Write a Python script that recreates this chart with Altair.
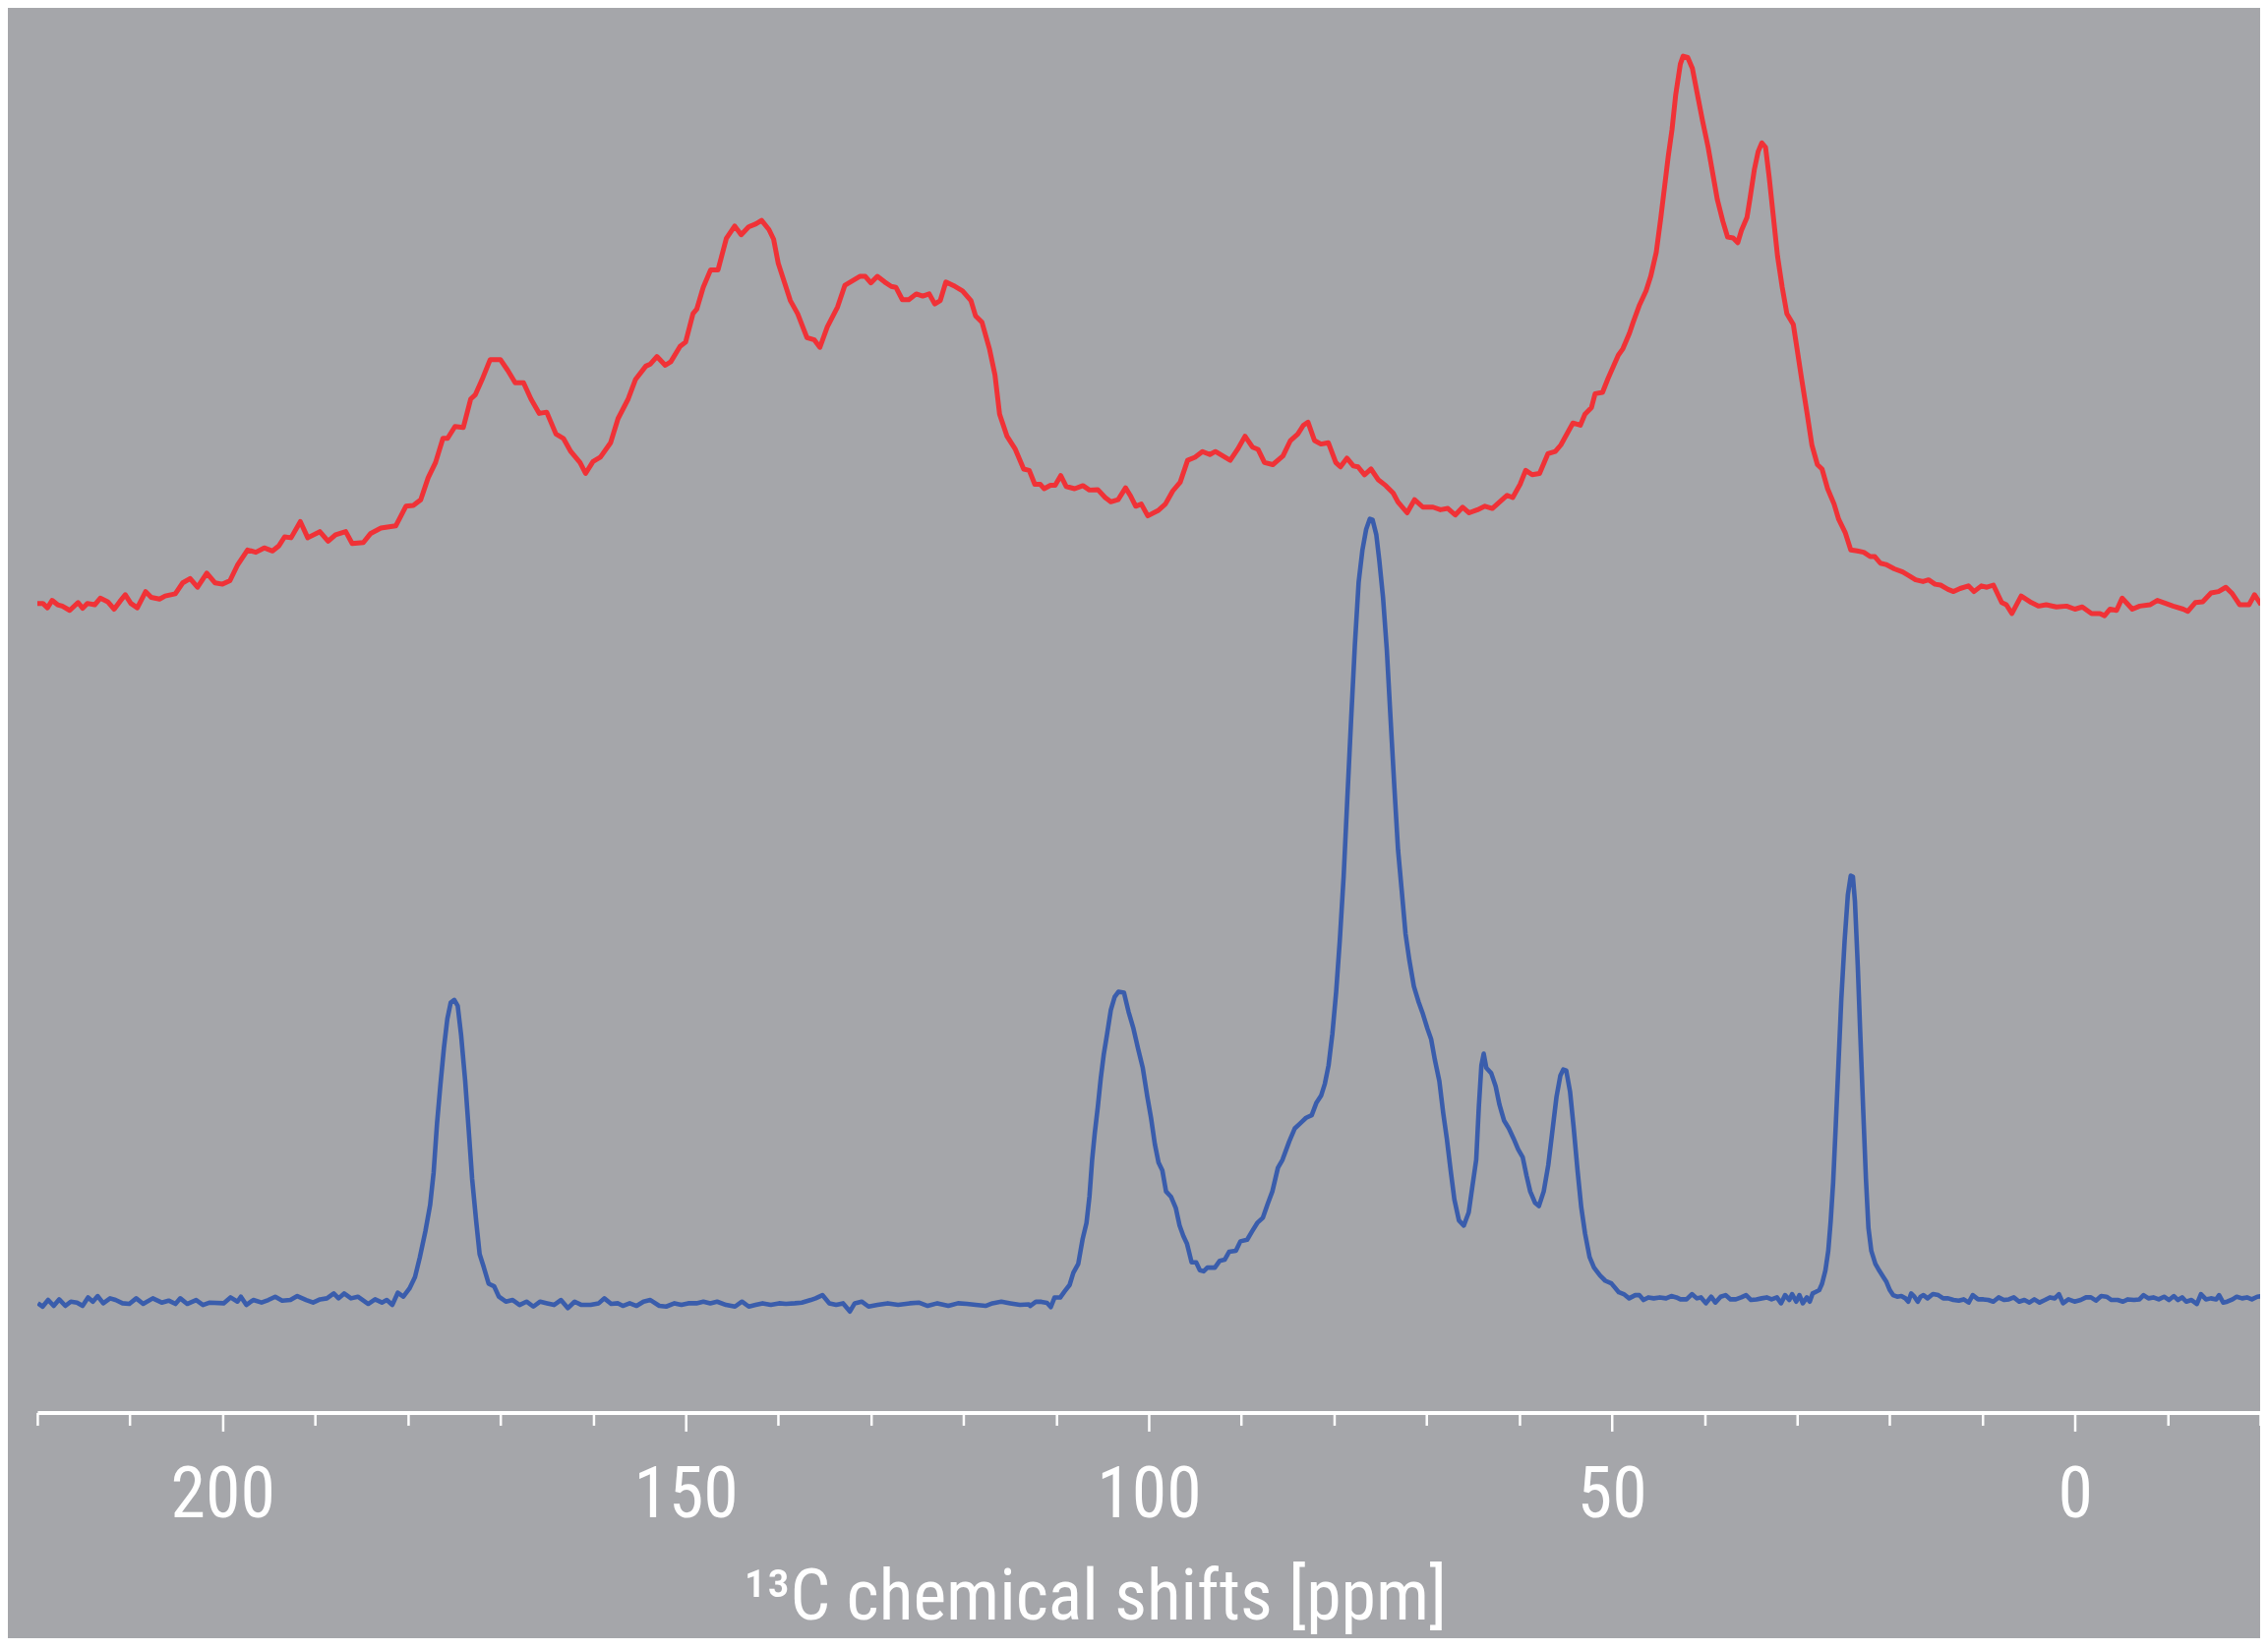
import altair as alt
import pandas as pd

# ---- red spectrum (upper trace), intensity relative to its own baseline ----
red_ppm = [220.0, 219.4, 218.9, 218.4, 217.8, 217.3, 216.5, 215.6, 215.1, 214.6, 213.8, 213.2, 212.4, 211.7, 211.1,
           210.5, 209.9, 209.2, 208.3, 207.7, 206.8, 206.2, 205.1, 204.3, 203.5, 202.7, 201.7, 200.8, 200.0, 199.2,
           198.4, 197.3, 196.4, 195.5, 194.6, 193.9, 193.3, 192.6, 191.6, 190.8, 189.5, 188.6, 187.8, 186.7, 186.0,
           184.8, 184.0, 182.9, 181.3, 180.2, 179.4, 178.6, 177.8, 177.0, 176.2, 175.7, 174.9, 174.0, 173.2, 172.7,
           172.0, 171.1, 170.0, 169.2, 168.4, 167.5, 166.7, 165.8, 165.0, 164.0, 163.2, 162.4, 161.4, 160.8, 160.0,
           159.2, 158.1, 157.3, 156.2, 155.4, 154.3, 153.8, 153.1, 152.2, 151.6, 150.6, 150.0, 149.2, 148.8, 148.1,
           147.3, 146.5, 145.6, 144.7, 144.0, 143.2, 142.4, 141.8, 141.0, 140.5, 140.0, 139.3, 138.7, 137.9, 136.9,
           136.1, 135.5, 134.7, 133.6, 132.8, 132.0, 131.2, 130.6, 130.0, 129.3, 128.5, 127.8, 127.3, 126.6, 125.9,
           125.1, 124.4, 123.7, 123.1, 122.5, 121.9, 120.9, 120.1, 119.2, 118.7, 118.0, 117.2, 116.6, 116.1, 115.3,
           114.4, 113.5, 112.9, 112.3, 111.7, 111.3, 110.6, 110.1, 109.5, 108.9, 108.0, 107.1, 106.4, 105.5, 104.7,
           104.1, 103.3, 102.5, 102.0, 101.4, 100.8, 100.1, 99.0, 98.2, 97.4, 96.6, 95.8, 95.0, 94.2, 93.4,
           92.8, 92.0, 91.2, 90.4, 89.6, 88.8, 88.2, 87.5, 86.6, 85.5, 84.7, 83.9, 83.3, 82.8, 82.1,
           81.4, 80.6, 79.8, 79.3, 78.6, 77.9, 77.4, 76.7, 76.0, 75.2, 74.4, 73.6, 73.1, 72.1, 71.3,
           70.4, 69.3, 68.5, 67.7, 66.9, 66.1, 65.4, 64.5, 63.7, 62.9, 62.1, 61.3, 60.7, 59.9, 59.3,
           58.6, 57.8, 56.9, 56.1, 55.5, 54.2, 53.4, 52.9, 52.2, 51.8, 51.0, 50.4, 49.3, 48.8, 48.1,
           47.7, 47.0, 46.3, 45.8, 45.2, 44.7, 44.3, 43.9, 43.5, 43.1, 42.6, 42.3, 41.8, 41.3, 40.8,
           40.2, 39.6, 39.1, 38.6, 38.0, 37.5, 36.9, 36.4, 36.0, 35.4, 35.1, 34.6, 34.2, 33.8, 33.4,
           33.0, 32.6, 32.1, 31.6, 31.1, 30.4, 30.0, 29.5, 28.9, 28.4, 27.8, 27.3, 26.7, 26.0, 25.5,
           24.8, 24.2, 23.5, 22.8, 22.1, 21.6, 21.0, 20.4, 19.5, 18.6, 17.8, 17.2, 16.4, 15.8, 15.1,
           14.5, 13.7, 13.1, 12.4, 11.5, 10.9, 10.1, 9.5, 8.8, 7.9, 7.4, 6.8, 5.8, 4.7, 3.9,
           3.1, 2.0, 0.9, 0.0, -0.8, -1.8, -2.7, -3.2, -3.8, -4.5, -5.1, -6.2, -7.0, -8.1, -8.9,
           -9.8, -10.6, -11.7, -12.2, -13.0, -13.8, -14.7, -15.5, -16.3, -17.0, -17.8, -18.8, -19.4, -20.1]
red_int = [0.19, 0.19, -0.37, 0.58, 0.02, -0.15, -0.70, 0.30, -0.43, 0.19, 0.02, 0.86, 0.41, -0.54, 0.41,
           1.30, 0.19, -0.37, 1.70, 0.97, 0.75, 1.14, 1.42, 2.81, 3.37, 2.25, 4.04, 2.81, 2.64, 3.09,
           5.04, 7.00, 6.71, 7.27, 6.88, 7.55, 8.67, 8.56, 10.62, 8.56, 9.34, 8.11, 8.95, 9.34, 7.83,
           7.95, 9.12, 9.79, 10.07, 12.58, 12.69, 13.41, 16.20, 18.15, 21.23, 21.23, 22.74, 22.62, 26.25, 26.80,
           28.65, 31.27, 31.27, 29.88, 28.31, 28.31, 26.25, 24.41, 24.57, 21.78, 21.23, 19.55, 18.15, 16.76, 18.27,
           18.83, 20.67, 23.74, 26.25, 28.76, 30.43, 30.71, 31.66, 30.54, 30.99, 32.95, 33.50, 37.13, 37.69, 40.48,
           42.71, 42.71, 46.73, 48.29, 47.18, 48.18, 48.57, 49.01, 47.84, 46.61, 43.55, 41.0, 38.8, 37.1, 34.06,
           33.78, 32.83, 35.45, 37.96, 40.75, 41.31, 41.87, 41.87, 41.04, 41.87, 41.15, 40.59, 40.48, 38.91, 38.91,
           39.64, 39.36, 39.64, 38.36, 38.80, 41.15, 40.59, 40.03, 38.80, 36.85, 36.01, 32.66, 29.31, 24.3, 21.5,
           19.83, 17.32, 17.15, 15.37, 15.37, 14.81, 15.25, 15.25, 16.48, 15.09, 14.81, 15.2, 14.64, 14.70, 13.69,
           13.14, 13.41, 14.92, 13.97, 12.58, 12.85, 11.35, 12.02, 12.85, 14.53, 15.64, 18.43, 18.83, 19.55, 19.16,
           19.55, 18.99, 18.43, 19.83, 21.5, 20.11, 19.83, 18.15, 17.88, 18.99, 20.95, 21.78, 22.9, 23.29, 20.95,
           20.5, 20.67, 18.15, 17.6, 18.71, 17.71, 17.6, 16.59, 17.32, 15.93, 15.2, 14.25, 13.14, 11.74, 13.41,
           12.46, 12.46, 12.13, 12.3, 11.46, 12.46, 11.74, 12.13, 12.58, 12.3, 13.14, 13.97, 13.69, 15.37, 17.15,
           16.59, 16.76, 19.27, 19.55, 20.39, 23.18, 22.9, 24.3, 25.14, 26.92, 27.09, 28.88, 31.83, 32.66, 34.62,
           36.01, 38.25, 40.03, 41.87, 44.94, 49.41, 53.31, 57.22, 60.57, 65.03, 68.94, 69.94, 69.77, 68.38, 65.31,
           61.68, 58.33, 54.98, 51.63, 48.85, 46.9, 46.78, 46.17, 47.73, 49.41, 51.63, 55.55, 57.78, 58.89, 58.33,
           54.43, 49.97, 44.39, 40.48, 37.13, 35.74, 32.66, 28.76, 24.3, 20.39, 17.88, 17.32, 14.81, 12.85, 10.9,
           9.23, 7.0, 6.88, 6.71, 6.16, 6.16, 5.32, 5.15, 4.6, 4.2, 3.65, 3.2, 2.98, 3.2, 2.64,
           2.53, 1.98, 1.7, 2.09, 2.42, 1.7, 2.42, 2.25, 2.53, 0.3, 0.02, -1.1, 1.14, 0.3, -0.15,
           0.02, -0.26, -0.15, -0.54, -0.26, -1.1, -1.1, -1.37, -0.54, -0.7, 0.86, -0.54, -0.15, 0.02, 0.58,
           0.19, -0.15, -0.54, -0.82, 0.3, 0.41, 1.53, 1.7, 2.25, 1.42, 0.02, 0.02, 1.3, 0.02]

# ---- blue spectrum (lower trace) ----
blue_ppm = [219.94, 219.42, 218.83, 218.23, 217.64, 216.97, 216.38, 215.71, 215.11, 214.52, 214.0, 213.48, 212.88,
            212.14, 211.55, 210.8, 210.06, 209.32, 208.57, 207.53, 206.57, 205.82, 205.08, 204.56, 203.82, 202.85,
            202.11, 201.37, 199.88, 199.14, 198.39, 198.02, 197.43, 196.68, 195.79, 195.05, 194.31, 193.56, 192.67,
            191.93, 190.96, 190.22, 189.47, 188.73, 187.99, 187.47, 186.87, 186.13, 185.39, 184.79, 184.27, 183.53,
            182.79, 182.27, 181.67, 181.08, 180.48, 179.82, 179.22, 178.7, 178.1, 177.59, 177.21, 176.84, 176.47,
            176.1, 175.73, 175.36, 174.98, 174.61, 174.24, 173.8, 173.42, 173.05, 172.61, 172.24, 171.79, 171.27,
            170.68, 170.16, 169.41, 168.67, 167.93, 167.18, 166.44, 165.7, 164.95, 164.21, 163.47, 162.72, 161.98,
            161.24, 160.27, 159.38, 158.78, 158.04, 157.3, 156.78, 156.04, 155.29, 154.55, 153.81, 152.84, 152.1,
            151.2, 150.46, 149.72, 148.83, 148.08, 147.34, 146.6, 145.63, 144.67, 143.92, 143.18, 142.44, 141.69,
            140.8, 139.91, 139.17, 138.2, 137.46, 136.49, 135.97, 135.23, 134.48, 133.74, 133.0, 132.26, 131.74,
            130.99, 130.25, 129.28, 128.17, 127.06, 125.79, 124.83, 123.86, 122.82, 121.63, 120.59, 119.63, 118.66,
            117.62, 116.87, 115.91, 114.94, 113.9, 112.94,
            112.8, 112.19, 111.58, 110.98, 110.57, 110.17, 109.56, 109.07, 108.54, 108.14, 107.61, 107.13, 106.72,
            106.4, 106.11, 105.83, 105.5, 105.18, 104.86, 104.49, 104.09, 103.68, 103.27, 102.67, 102.18, 101.65,
            101.13, 100.64, 100.15, 99.75, 99.34, 98.94, 98.53, 98.13, 97.6, 97.07, 96.67, 96.26, 95.86, 95.37,
            94.88, 94.48, 94.07, 93.67, 92.86, 92.33, 91.8, 91.32, 90.59, 90.1, 89.37, 88.8, 88.28, 87.67, 87.18,
            86.65, 86.05, 85.56, 84.83, 84.22, 83.61, 83.01, 82.4, 81.91, 81.39, 80.98, 80.58, 80.17, 79.76, 79.36,
            78.95, 78.55, 78.14, 77.74, 77.33, 76.93, 76.52, 76.12, 75.83, 75.43, 75.1, 74.7, 74.29, 73.89, 73.48,
            73.08, 72.67, 72.27, 71.86, 71.37, 70.85, 70.44, 69.91, 69.51, 69.1, 68.62, 68.21, 67.81, 67.4, 67.0,
            66.51, 65.98, 65.45, 65.05, 64.64, 64.36, 64.08, 63.83, 63.55, 63.02, 62.54, 62.13, 61.64, 61.12, 60.59,
            60.11, 59.62, 59.21, 58.81, 58.28, 57.87, 57.35, 56.86, 56.38, 55.97, 55.56, 55.24, 54.92, 54.51, 54.11,
            53.7, 53.3, 52.89, 52.4, 51.92, 51.27, 50.7, 50.05, 49.24,
            48.71, 48.13, 47.47, 47.02, 46.58, 46.05, 45.47, 44.81, 44.14, 43.57, 43.03, 42.59, 41.93, 41.35, 40.82,
            40.37, 39.84, 39.27, 38.82, 38.25, 37.72, 37.18, 36.61, 36.03, 35.5, 34.97, 34.39, 33.81, 33.28, 32.75,
            32.17, 31.73, 31.29, 30.84, 30.53, 30.09, 29.74, 29.38, 28.94, 28.63, 28.32, 27.96, 27.61, 27.3, 26.94,
            26.63, 26.37, 26.1, 25.84, 25.53, 25.22, 24.86, 24.51, 24.2, 23.97, 23.75, 23.44, 23.18, 22.87, 22.56,
            22.29, 21.98, 21.54, 21.23, 20.78, 20.34, 19.98, 19.63, 19.19, 18.74, 18.3, 17.99, 17.68, 17.33, 16.97,
            16.66, 16.35, 15.91, 15.33, 14.75, 14.22, 13.69, 13.11, 12.54, 12.01, 11.47, 11.03, 10.45, 9.88, 9.35,
            8.81, 8.24, 7.66, 7.13, 6.6, 6.02, 5.45, 4.91, 4.38, 3.81, 3.23, 2.7, 2.17, 1.72, 1.28,
            0.7, 0.04, -0.63, -1.2, -1.73, -2.27, -2.84, -3.42, -3.95, -4.62, -5.19, -5.72, -6.39, -6.97, -7.41,
            -7.94, -8.47, -9.05, -9.63, -10.16, -10.69, -11.13, -11.58, -12.02, -12.59, -13.17, -13.61, -14.15, -14.68, -15.26,
            -15.57, -16.01, -16.45, -17.03, -17.47, -18.05, -18.58, -19.11, -19.69, -20.26]
blue_int = [-0.01, -0.43, 0.41, -0.34, 0.49, -0.34, 0.2, 0.08, -0.34, 0.74, 0.2, 0.91, -0.01,
            0.62, 0.41, -0.01, -0.09, 0.62, -0.09, 0.62, 0.08, 0.33, -0.09, 0.62, -0.09, 0.41,
            -0.22, 0.08, -0.01, 0.74, 0.2, 0.83, -0.22, 0.41, 0.08, 0.41, 0.83, 0.33, 0.41,
            0.91, 0.41, 0.08, 0.49, 0.62, 1.24, 0.62, 1.24, 0.62, 0.83, 0.33, -0.09, 0.49,
            0.08, 0.41, -0.22, 1.33, 0.83, 1.87, 3.33, 5.83, 9.16, 12.49, 16.66, 22.92, 27.91,
            32.49, 36.24, 38.33, 38.66, 37.91, 34.16, 28.33, 22.08, 15.83, 10.41, 6.24, 4.58, 2.49,
            2.16, 0.83, 0.2, 0.41, -0.22, 0.2, -0.43, 0.2, -0.01, -0.22, 0.41, -0.63, 0.2,
            -0.22, -0.22, -0.01, 0.62, -0.09, -0.01, -0.34, -0.01, -0.34, 0.2, 0.41, -0.34, -0.43,
            -0.01, -0.22, -0.01, -0.01, 0.2, -0.01, 0.2, -0.22, -0.43, 0.2, -0.43, -0.22, -0.01,
            -0.22, -0.01, -0.09, -0.01, 0.08, 0.41, 0.62, 1.03, -0.01, -0.22, -0.01, -1.05, -0.01,
            0.2, -0.43, -0.22, -0.01, -0.22, -0.01, 0.08, -0.34, -0.01, -0.34, -0.01, -0.09, -0.22,
            -0.34, -0.01, 0.2, -0.01, -0.22, -0.14,
            -0.35, 0.18, 0.18, 0.05, -0.49, 0.72, 0.72, 1.52, 2.33, 3.87, 5.01, 8.22, 10.23,
            13.58, 18.27, 21.62, 24.97, 28.65, 31.66, 34.34, 37.36, 39.03, 39.7, 39.57, 37.16, 35.01,
            32.33, 29.99, 26.31, 23.62, 20.28, 17.93, 16.93, 14.25, 13.58, 12.11, 9.9, 8.55, 7.55, 5.21,
            5.21, 4.2, 4.07, 4.54, 4.54, 5.41, 5.54, 6.55, 6.68, 7.89, 8.09, 9.23, 10.23, 10.9, 12.58,
            14.25, 17.26, 18.27, 20.61, 22.29, 22.96, 23.63, 23.96, 25.5, 26.44, 27.98, 30.32, 34.34, 39.7, 46.4,
            54.44, 64.48, 74.53, 83.91, 91.94, 95.96, 98.64, 99.98, 99.85, 97.97, 94.62, 89.93, 83.24, 74.53, 65.82,
            57.78, 52.43, 47.07, 43.72, 40.37, 38.36, 37.02, 35.01, 33.67, 30.99, 28.31, 24.3, 20.95, 16.93, 13.24,
            10.56, 9.9, 11.57, 14.92, 18.27, 24.97, 30.32, 31.8, 29.99, 29.32, 27.64, 25.3, 23.29, 22.29, 20.95,
            19.61, 18.6, 16.26, 14.25, 12.78, 12.38, 14.25, 17.6, 22.29, 26.31, 28.98, 29.79, 29.66, 26.98, 22.29,
            16.93, 12.24, 8.89, 5.88, 4.54, 3.53, 2.86, 2.53, 1.4,
            1.16, 0.62, 1.03, 1.03, 0.41, 0.74, 0.62, 0.74, 0.62, 0.91, 0.74, 0.49, 0.49, 1.16, 0.62,
            0.74, -0.01, 0.83, 0.08, 0.83, 1.03, 0.49, 0.49, 0.74, 1.03, 0.41, 0.49, 0.62, 0.74, 0.49,
            0.74, -0.01, 1.03, 0.41, 1.16, 0.2, 1.03, -0.01, 0.74, 0.2, 1.24, 1.45, 1.66, 2.49, 4.16,
            6.66, 10.41, 15.41, 22.08, 30.41, 38.74, 46.24, 52.08, 54.49, 54.37, 51.24, 42.91, 34.58, 24.99, 15.83,
            9.58, 6.66, 5.0, 4.37, 3.53, 2.7, 1.66, 1.03, 0.83, 0.91, 0.62, 0.2, 1.24, 0.83, 0.2,
            0.83, 1.03, 0.62, 1.16, 1.03, 0.62, 0.62, 0.41, 0.33, 0.49, 0.08, 1.03, 0.49, 0.49, 0.41,
            0.2, 0.74, 0.41, 0.49, 0.74, 0.2, 0.41, 0.08, 0.49, 0.08, 0.41, 0.74, 0.62, 1.16, -0.01,
            0.49, 0.2, 0.41, 0.74, 0.74, 0.33, 0.91, 0.83, 0.41, 0.41, 0.2, 0.49, 0.41, 0.49, 1.03,
            0.62, 0.74, 0.49, 0.83, 0.41, 0.91, 0.41, 0.74, 0.2, 0.41, -0.09, 1.16, 0.49, 0.62, 0.49,
            1.03, 0.08, 0.2, 0.49, 0.83, 0.62, 0.74, 0.49, 0.83, 0.91]

x_ticks = list(range(220, -30, -10))
x_title = "\u00b9\u00b3C chemical shifts [ppm]"

RED_OFFSET = 89
BG = "#a5a6aa"
RED = "#f03237"
BLUE = "#3a5dac"
FONT = "Liberation Sans Narrow, Roboto Condensed, DejaVu Sans Condensed, sans-serif"

red_df = pd.DataFrame({"ppm": red_ppm, "intensity": red_int})
blue_df = pd.DataFrame({"ppm": blue_ppm, "intensity": blue_int})

x_scale = alt.Scale(domain=[-20, 220], reverse=True, nice=False, zero=False)
y_scale = alt.Scale(domain=[-13.925, 164.825], nice=False, zero=False)

x_axis = alt.Axis(
    values=x_ticks,
    format="d",
    labelExpr="datum.value % 50 === 0 ? datum.label : ''",
    tickSize={"condition": {"test": "datum.value % 50 === 0", "value": 19}, "value": 13},
    tickColor="white",
    tickWidth=2.5,
    domainColor="white",
    domainWidth=4,
    grid=False,
    labelColor="white",
    labelFont=FONT,
    labelFontSize=72,
    labelFontWeight="normal",
    labelPadding=30,
    labelOverlap=False,
    labelFlush=False,
    title=x_title,
    titleFont=FONT,
    titleFontSize=72,
    titleFontWeight="normal",
    titleColor="white",
    titleAlign="center",
    titleBaseline="alphabetic",
    titleX=1078,
    titleY=211,
)

red = (
    alt.Chart(red_df)
    .transform_calculate(shifted=f"datum.intensity + {RED_OFFSET}")
    .mark_line(color=RED, strokeWidth=5, strokeJoin="round", clip=True)
    .encode(
        x=alt.X("ppm:Q", scale=x_scale, axis=x_axis),
        y=alt.Y("shifted:Q", scale=y_scale, axis=None),
        order=alt.Order("ppm:Q", sort="descending"),
    )
)

blue = (
    alt.Chart(blue_df)
    .mark_line(color=BLUE, strokeWidth=4.6, strokeJoin="round", clip=True)
    .encode(
        x=alt.X("ppm:Q", scale=x_scale, axis=x_axis),
        y=alt.Y("intensity:Q", scale=y_scale, axis=None),
        order=alt.Order("ppm:Q", sort="descending"),
    )
)

chart = (
    alt.layer(red, blue)
    .properties(
        width=2266,
        height=1430,
        background=BG,
        padding={"left": 30, "top": 0, "right": 0, "bottom": 228},
        autosize=alt.AutoSizeParams(type="none"),
    )
    .configure_view(stroke=None)
)

chart.save("out.html", embed_options={"renderer": "svg", "actions": False})
